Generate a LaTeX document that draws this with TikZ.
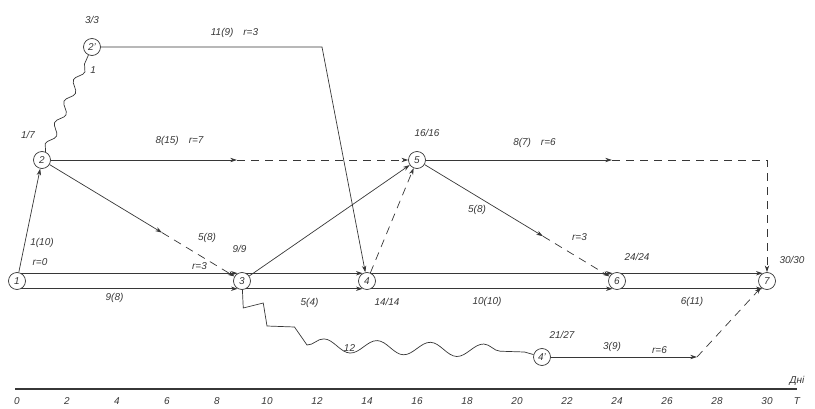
\documentclass[tikz,border=0pt]{standalone}
\usepackage{fontspec}
\setmainfont{Liberation Sans}
\usepackage{tikz}
\usetikzlibrary{arrows.meta,decorations.pathmorphing,calc}
\definecolor{ink}{RGB}{55,55,55}

\begin{document}
\begin{tikzpicture}[x=7.5mm,y=-0.3mm,
  every node/.style={font=\itshape\fontsize{8.5}{9}\selectfont,text=ink,inner sep=1pt},
  ev/.style={circle,draw=ink,line width=0.6pt,minimum size=5.1mm,inner sep=0pt},
  act/.style={draw=ink,line width=0.6pt},
  slack/.style={act,dash pattern=on 2.4mm off 1.8mm},
  crit/.style={draw=ink,line width=0.8pt},
  tip/.style={-{Stealth[length=2mm,width=1.3mm]}}]
  \useasboundingbox (-0.68,0) rectangle (31.92,409);

  % events
  \node[ev] (n1)  at (0,281)  {1};
  \node[ev] (n2)  at (1,160)  {2};
  \node[ev] (n2a) at (3,47)   {2'};
  \node[ev] (n3)  at (9,281)  {3};
  \node[ev] (n4)  at (14,281) {4};
  \node[ev] (n5)  at (16,160) {5};
  \node[ev] (n6)  at (24,281) {6};
  \node[ev] (n7)  at (30,281) {7};
  \node[ev] (n4a) at (21,357) {4'};

  % end of work / start of reserve
  \coordinate (k24) at (12.2,47);
  \coordinate (c25) at (8.8,160);
  \coordinate (c23) at ($(n2)!0.6!(n3)$);
  \coordinate (c56) at ($(n5)!0.63!(n6)$);
  \coordinate (c57) at (23.8,160);
  \coordinate (k57) at (30,160);
  \coordinate (c47) at (27.2,357);

  % critical path: double line
  \foreach \a/\b in {n1/n3,n3/n4,n4/n6,n6/n7} {
    \draw[crit,tip] (\a.61) -- (\b.119);
    \draw[crit,tip] (\a.-61) -- (\b.-119);
  }

  % other works
  \draw[act,tip] (n1) -- (n2);
  \draw[act,decorate,decoration={snake,amplitude=1.1mm,segment length=7mm,post length=1mm}]
    (n2) -- (n2a);
  \draw[act,tip] (n2a) -- (k24) -- (n4);
  \draw[act,tip] (n2) -- (c25);
  \draw[slack,tip] (c25) -- (n5);
  \draw[act,tip] (n2) -- (c23);
  \draw[slack,tip] (c23) -- (n3);
  \draw[act,tip] (n3) -- (n5);
  \draw[slack,tip] (n4) -- (n5);
  \draw[act,tip] (n5) -- (c56);
  \draw[slack,tip] (c56) -- (n6);
  \draw[act,tip] (n5) -- (c57);
  \draw[slack,tip] (c57) -- (k57) -- (n7);
  \draw[act] (n3) -- (9.05,308) -- (9.85,303) -- (10,326) -- (11.1,327) -- (11.6,345)
    decorate[decoration={snake,amplitude=2mm,segment length=16mm}] {-- (20.3,352)}
    -- (n4a);
  \draw[act,tip] (n4a) -- (c47);
  \draw[slack,tip] (c47) -- (n7);

  % event times
  \node (e2a) at (3,20)      {3/3};
  \node (f2a) at (3.05,70)   {1};
  \node (e2)  at (0.44,135)  {1/7};
  \node (e3)  at (8.9,249)   {9/9};
  \node (e4)  at (14.8,302)  {14/14};
  \node (e5)  at (16.4,133)  {16/16};
  \node (e6)  at (24.8,257)  {24/24};
  \node (e7)  at (31.0,260)  {30/30};
  \node (e4a) at (21.8,335)  {21/27};

  % works: duration (workers), reserve
  \node (w24)  at (8.7,33)   {11(9)\quad r=3};
  \node (w25)  at (6.5,141)  {8(15)\quad r=7};
  \node (w57)  at (20.7,143) {8(7)\quad r=6};
  \node (w12)  at (1.0,243)  {1(10)};
  \node (r12)  at (0.92,262) {r=0};
  \node (w23)  at (7.6,238)  {5(8)};
  \node (r23)  at (7.3,266)  {r=3};
  \node (w13)  at (3.9,298)  {9(8)};
  \node (w34)  at (11.7,303) {5(4)};
  \node (w46)  at (18.8,302) {10(10)};
  \node (w56)  at (18.4,210) {5(8)};
  \node (r56)  at (22.5,237) {r=3};
  \node (w67)  at (27.0,302) {6(11)};
  \node (w34a) at (13.3,348) {12};
  \node (w47)  at (23.8,347) {3(9)};
  \node (r47)  at (25.7,350) {r=6};

  % time axis
  \draw[draw=ink,line width=1.1pt] (-0.08,389) -- (31.2,389);
  \foreach \d in {0,2,...,30}
    \node (t\d) at (\d,401) {\d};
  \node (tT)  at (31.2,401) {T};
  \node (dni) at (31.2,381) {Дні};
\end{tikzpicture}
\end{document}
